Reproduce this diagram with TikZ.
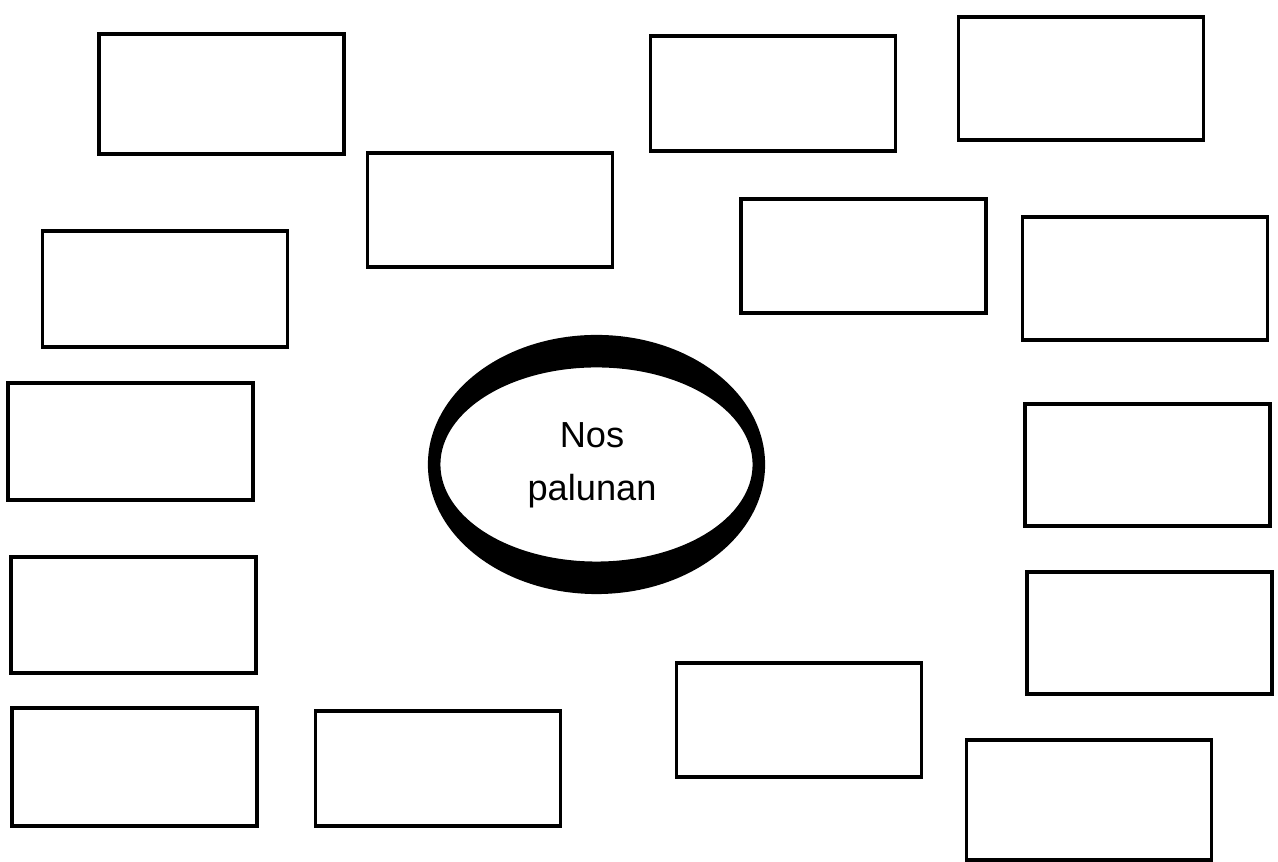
\documentclass[tikz,border=0pt]{standalone}
\usepackage{fontspec}
\setmainfont{Liberation Sans}
\begin{document}
\begin{tikzpicture}[x=0.01cm, y=-0.01cm,
  blank/.style={draw, line width=0.9pt, inner sep=0pt, outer sep=0pt, minimum width=2.45cm,
    append after command={[line width=1.6pt, line cap=rect]
      (\tikzlastnode.north west) edge (\tikzlastnode.north east)
      (\tikzlastnode.south west) edge (\tikzlastnode.south east)}}]

 \useasboundingbox[fill=white] (0,0) rectangle (1278,862);

 % ring in the middle
 \coordinate (hub) at (596.5,464.5);
 \fill[even odd rule] (hub) ellipse [x radius=1.685cm, y radius=1.295cm]
   (hub) ellipse [x radius=1.56cm, y radius=0.97cm];
 \node[font=\fontsize{10.3pt}{15pt}\selectfont, align=center] (title) at (592,465) {Nos\\palunan};

 % left side
 \node[blank, minimum height=1.20cm] (b1) at (221.5,94) {};
 \node[blank, minimum height=1.16cm] (b5) at (165,289) {};
 \node[blank, minimum height=1.17cm] (b8) at (130.5,441.5) {};
 \node[blank, minimum height=1.16cm] (b10) at (133.5,615) {};
 \node[blank, minimum height=1.18cm] (b12) at (134.5,767) {};

 % middle
 \node[blank, minimum height=1.14cm] (b2) at (490,210) {};
 \node[blank, minimum height=1.15cm] (b3) at (773,93.5) {};
 \node[blank, minimum height=1.14cm] (b6) at (863.5,256) {};
 \node[blank, minimum height=1.15cm] (b13) at (438,768.5) {};
 \node[blank, minimum height=1.14cm] (b14) at (799,720) {};

 % right side
 \node[blank, minimum height=1.23cm] (b4) at (1081,78.5) {};
 \node[blank, minimum height=1.23cm] (b7) at (1145,278.5) {};
 \node[blank, minimum height=1.22cm] (b9) at (1147.5,465) {};
 \node[blank, minimum height=1.22cm] (b11) at (1149.5,633) {};
 \node[blank, minimum height=1.20cm] (b15) at (1089,800) {};

\end{tikzpicture}
\end{document}
